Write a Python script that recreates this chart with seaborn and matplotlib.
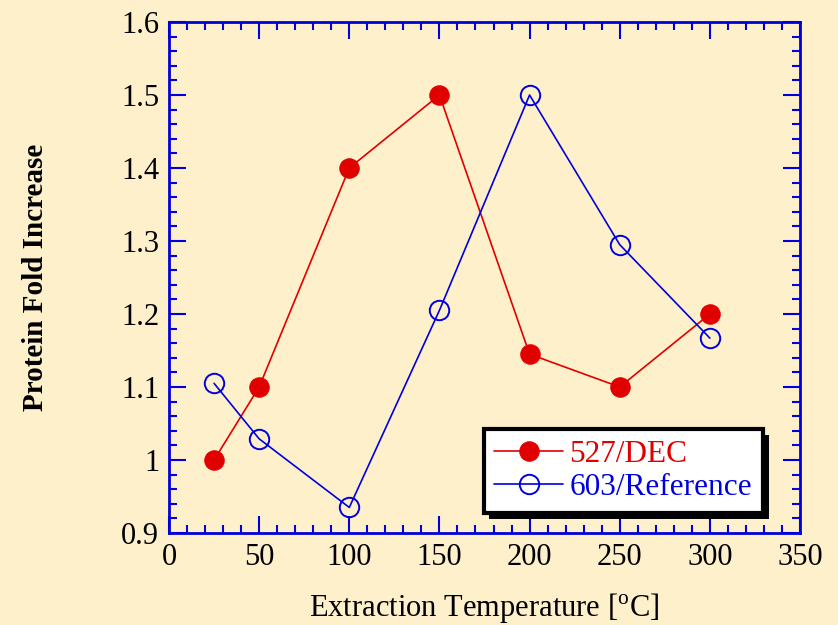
import matplotlib
matplotlib.use("Agg")
import matplotlib.pyplot as plt
from matplotlib.ticker import MultipleLocator
import matplotlib.patheffects as pe
import seaborn as sns
import pandas as pd

temps = [25, 50, 100, 150, 200, 250, 300]
dec_values = [1.0, 1.1, 1.4, 1.5, 1.145, 1.1, 1.2]
ref_values = [1.105, 1.029, 0.935, 1.205, 1.5, 1.295, 1.167]
series_names = ["527/DEC", "603/Reference"]

df = pd.concat([
    pd.DataFrame({"Temp": temps, "Fold": dec_values, "Series": series_names[0]}),
    pd.DataFrame({"Temp": temps, "Fold": ref_values, "Series": series_names[1]}),
])

sns.set_style("ticks")
plt.rcParams["font.family"] = ["Liberation Serif", "DejaVu Serif"]
plt.rcParams["mathtext.fontset"] = "custom"
plt.rcParams["mathtext.rm"] = "Liberation Serif"
plt.rcParams["text.color"] = "black"
plt.rcParams["axes.labelcolor"] = "black"

bg = "#FFF0CC"
fig = plt.figure(figsize=(8.38, 6.25), dpi=100, facecolor=bg)
ax = fig.add_axes([169/838, 1-533/625, 631/838, 511/625])
ax.set_facecolor(bg)

red = "#E00000"
blue = "#0000DD"

sns.lineplot(data=df[df.Series == series_names[0]], x="Temp", y="Fold", ax=ax,
             color=red, lw=1.2, marker="o", markersize=14, markerfacecolor=red,
             markeredgecolor=red, label=series_names[0])
sns.lineplot(data=df[df.Series == series_names[1]], x="Temp", y="Fold", ax=ax,
             color=blue, lw=1.2, marker="o", markersize=14, markerfacecolor="none",
             markeredgecolor=blue, markeredgewidth=1.4, label=series_names[1])

ax.set_xlim(0, 350)
ax.set_ylim(0.9, 1.6)
ax.xaxis.set_major_locator(MultipleLocator(50))
ax.xaxis.set_minor_locator(MultipleLocator(10))
ax.yaxis.set_minor_locator(MultipleLocator(0.02))
ax.set_yticks([0.9, 1.0, 1.1, 1.2, 1.3, 1.4, 1.5, 1.6])
ax.set_yticklabels(["0.9", "1", "1.1", "1.2", "1.3", "1.4", "1.5", "1.6"])

for s in ax.spines.values():
    s.set_color(blue)
    s.set_linewidth(2)
ax.tick_params(which="both", direction="in", top=True, right=True, color=blue,
               width=1.5, labelsize=22, labelcolor="black")
ax.tick_params(which="major", length=12, pad=7)
ax.tick_params(which="minor", length=6)

ax.set_xlabel(r"Extraction Temperature [$^{\mathrm{o}}$C]", fontsize=22, labelpad=14, color="black")
ax.set_ylabel("Protein Fold Increase", fontsize=21, fontweight="bold", labelpad=52, color="black")

leg = ax.legend(loc="lower right", bbox_to_anchor=((763-169)/631, (533-513)/511),
                borderaxespad=0, fontsize=22.5,
                frameon=True, fancybox=False, edgecolor="black", framealpha=1,
                handlelength=2.2, borderpad=0.35, labelspacing=0.12, handletextpad=0.2)
leg.get_frame().set_linewidth(3)
leg.get_frame().set_path_effects([pe.SimplePatchShadow(offset=(4, -4), shadow_rgbFace="black", alpha=1), pe.Normal()])
for t, c in zip(leg.get_texts(), [red, blue]):
    t.set_color(c)

fig.savefig("out.png", dpi=100, facecolor=bg)
